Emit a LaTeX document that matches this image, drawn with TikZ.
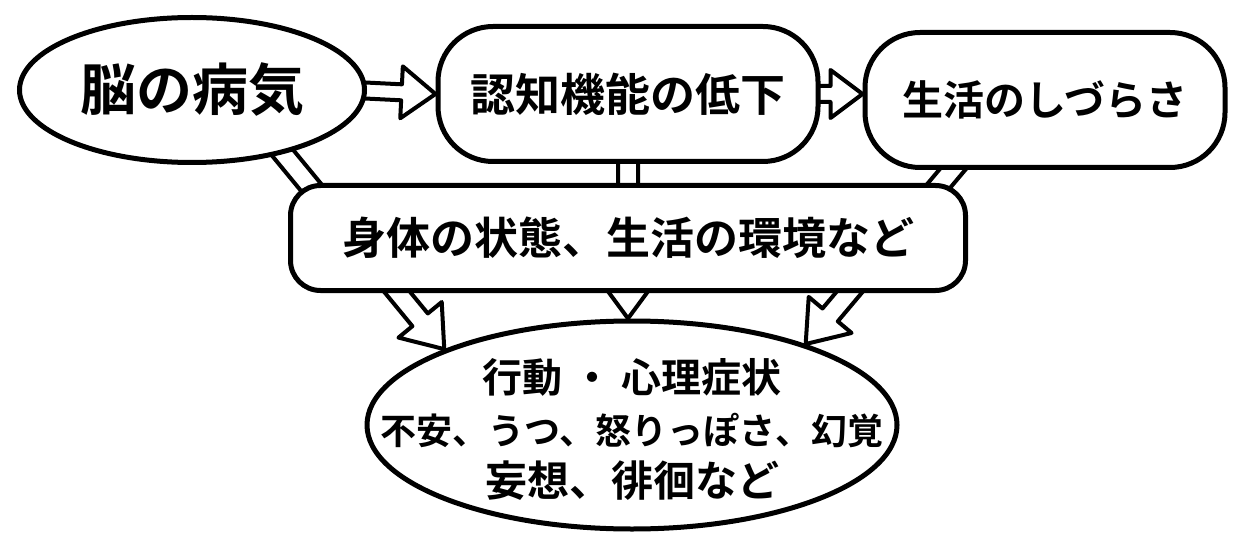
\documentclass[tikz,border=0pt]{standalone}
\usepackage{fontspec}
\newfontfamily\jp{Noto Sans CJK JP}[BoldFont={Noto Sans CJK JP Bold}]
\usetikzlibrary{calc,shapes.geometric}
\pgfdeclarelayer{background}
\pgfdeclarelayer{paper}
\pgfsetlayers{paper,background,main}
% #1 start, #2 end, #3 shaft half width, #4 head half width, #5 head length
\newcommand\hollowarrow[5]{%
  \coordinate (ha-s) at (#1);
  \coordinate (ha-e) at (#2);
  \coordinate (ha-c) at ($(ha-e)!#5!(ha-s)$);
  \draw[harrow] ($(ha-s)!#3!90:(ha-e)$) -- ($(ha-c)!#3!90:(ha-e)$)
    -- ($(ha-c)!#4!90:(ha-e)$) -- (ha-e) -- ($(ha-c)!#4!-90:(ha-e)$)
    -- ($(ha-c)!#3!-90:(ha-e)$) -- ($(ha-s)!#3!-90:(ha-e)$) -- cycle;
}
\begin{document}
\begin{tikzpicture}[x=1pt,y=-1pt,
  box/.style={draw=black, line width=5pt, fill=white, inner sep=0pt, align=center},
  blob/.style={box, ellipse},
  rbox/.style={box, rectangle, rounded corners=#1},
  harrow/.style={draw=black, line width=4pt, fill=white, line join=round},
  big/.style={font=\jp\bfseries\fontsize{#1}{#1}\selectfont}
]
\begin{pgfonlayer}{paper}
  \useasboundingbox[fill=white] (0,0) rectangle (1236,537);
\end{pgfonlayer}

\node[blob, big=56, minimum width=345pt, minimum height=145pt] (brain) at (192,90) {脳の病気};
\node[rbox=55pt, big=45, minimum width=380pt, minimum height=135pt] (cog) at (628,94) {認知機能の低下};
\node[rbox=55pt, big=41, minimum width=360pt, minimum height=135pt] (life) at (1045,100) {生活のしづらさ};
\node[rbox=30pt, big=44, minimum width=675pt, minimum height=105pt] (mid) at (628,238) {身体の状態、生活の環境など};
\node[box, ellipse, fill=none, minimum width=530pt, minimum height=208pt] (bot) at (632,425) {};
\node[font=\jp\bfseries\fontsize{36}{52}\selectfont, align=center] (bottext) at ($(bot.center)+(0,4)$)
  {{\fontsize{40}{52}\selectfont 行動 ・ 心理症状}\\不安、うつ、怒りっぽさ、幻覚\\{\fontsize{42}{52}\selectfont 妄想、徘徊など}};

\begin{pgfonlayer}{background}
  \hollowarrow{$(brain.east)+(-12,0)$}{cog.west}{8pt}{26pt}{34pt}
  \hollowarrow{$(cog.east)+(-12,0)$}{cog.east -| life.west}{8pt}{24pt}{32pt}
  \hollowarrow{$(brain.-35)+(-8,-10)$}{bot.158}{10pt}{28pt}{38pt}
  \hollowarrow{$(cog.south)+(0,-15)$}{cog.south |- bot.north}{10pt}{28pt}{38pt}
  \hollowarrow{$($(life.south west)!0.28!(life.south east)$)+(0,-15)$}{bot.25}{10pt}{28pt}{38pt}
\end{pgfonlayer}
\end{tikzpicture}
\end{document}
